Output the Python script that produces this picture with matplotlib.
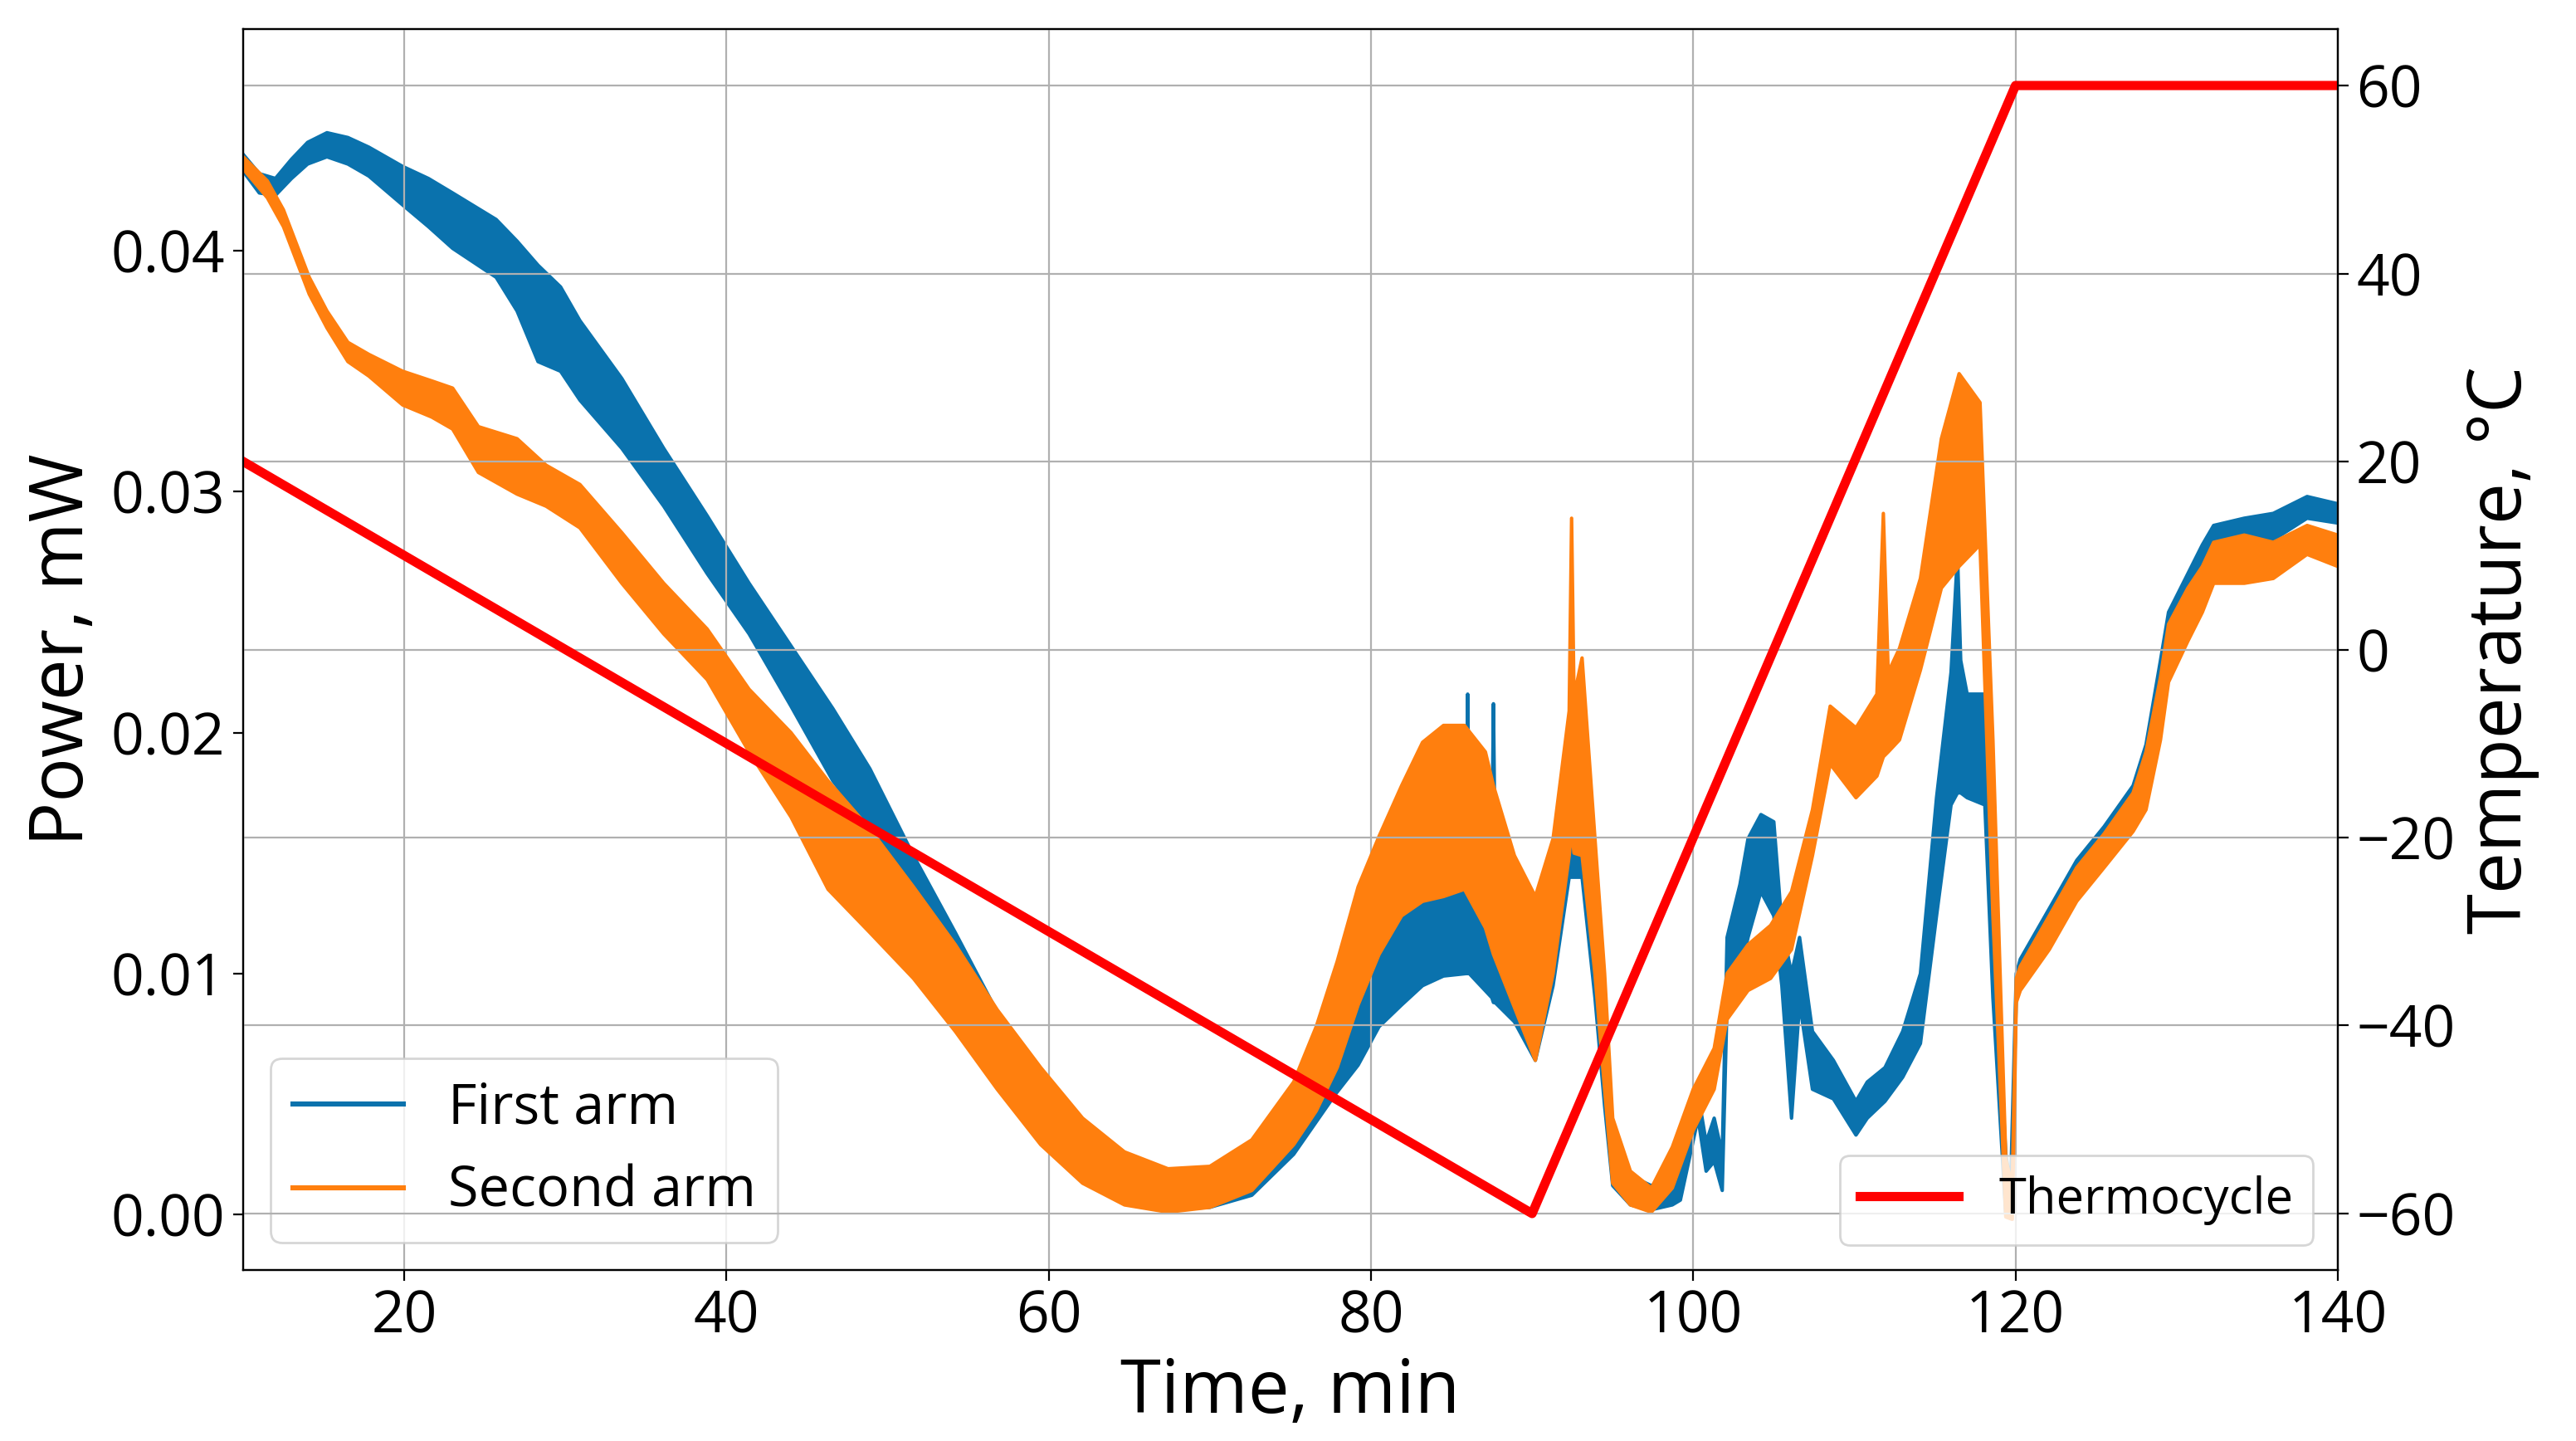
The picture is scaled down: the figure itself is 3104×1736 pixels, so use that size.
import matplotlib.pyplot as plt
from matplotlib.lines import Line2D

plt.rcParams['font.family'] = ['Open Sans', 'DejaVu Sans']

# First arm: time (min), upper / lower edge of the noisy band (mW)
first_t = [10.0, 11.0, 12.0, 13.0, 14.0, 15.2, 16.5, 17.8, 19.9, 21.5, 23.0, 25.7, 27.0, 28.3,
           29.7, 30.9, 33.5, 36.1, 38.8, 41.4, 44.0, 46.6, 48.9, 51.6, 54.2, 56.8, 59.5, 62.1,
           64.7, 67.4, 70.0, 72.6, 75.2, 77.8, 79.2, 80.5, 81.9, 83.2, 84.5, 85.9, 86.0, 86.1,
           87.5, 87.6, 87.7, 88.9, 90.2, 91.3, 92.3, 93.1, 93.9, 94.5, 95.0, 96.1, 97.4, 98.7,
           99.2, 100.3, 100.8, 101.3, 101.8, 102.1, 102.9, 103.4, 104.2, 105.0, 105.5, 106.1,
           106.6, 107.4, 108.7, 110.1, 110.8, 111.9, 113.0, 114.1, 115.1, 116.0, 116.4, 116.6,
           117.0, 118.1, 118.6, 119.4, 119.7, 120.05, 120.3, 122.1, 123.8, 125.5, 127.3, 128.1,
           129.0, 129.5, 130.7, 131.6, 132.3, 134.2, 136.0, 138.1, 140.0]
first_hi = [0.0440, 0.0432, 0.0430, 0.0438, 0.0445, 0.0449, 0.0447, 0.0443, 0.0435, 0.0430,
            0.0424, 0.0413, 0.0404, 0.0394, 0.0385, 0.0371, 0.0347, 0.0318, 0.0290, 0.0262,
            0.0236, 0.0210, 0.0185, 0.0149, 0.0117, 0.0084, 0.0055, 0.0034, 0.0020, 0.0016,
            0.0016, 0.0025, 0.0048, 0.0085, 0.0100, 0.0120, 0.0140, 0.0150, 0.0155, 0.0160,
            0.0216, 0.0158, 0.0152, 0.0212, 0.0150, 0.0135, 0.0125, 0.0150, 0.0190, 0.0215,
            0.0150, 0.0090, 0.0035, 0.0016, 0.0012, 0.0016, 0.0020, 0.0050, 0.0030, 0.0040,
            0.0025, 0.0115, 0.0137, 0.0156, 0.0166, 0.0163, 0.0120, 0.0100, 0.0115, 0.0076,
            0.0064, 0.0047, 0.0055, 0.0061, 0.0076, 0.0100, 0.0173, 0.0225, 0.0274, 0.0230,
            0.0216, 0.0216, 0.0124, 0.0025, 0.0012, 0.0100, 0.0106, 0.0127, 0.0147, 0.0161,
            0.0178, 0.0195, 0.0230, 0.0250, 0.0266, 0.0278, 0.0286, 0.0289, 0.0291, 0.0298,
            0.0295]
first_lo = [0.0433, 0.0424, 0.0423, 0.0430, 0.0436, 0.0439, 0.0436, 0.0431, 0.0419, 0.0410,
            0.0401, 0.0389, 0.0375, 0.0354, 0.0350, 0.0338, 0.0318, 0.0294, 0.0266, 0.0241,
            0.0211, 0.0180, 0.0160, 0.0125, 0.0095, 0.0065, 0.0040, 0.0018, 0.0006, 0.0002,
            0.0003, 0.0008, 0.0025, 0.0050, 0.0062, 0.0078, 0.0087, 0.0095, 0.0099, 0.0100,
            0.0100, 0.0100, 0.0090, 0.0088, 0.0088, 0.0080, 0.0064, 0.0095, 0.0140, 0.0140,
            0.0090, 0.0045, 0.0012, 0.0004, 0.0002, 0.0004, 0.0006, 0.0040, 0.0018, 0.0022,
            0.0010, 0.0088, 0.0100, 0.0115, 0.0134, 0.0124, 0.0095, 0.0040, 0.0088, 0.0052,
            0.0048, 0.0033, 0.0040, 0.0047, 0.0057, 0.0071, 0.0124, 0.0170, 0.0175, 0.0175,
            0.0173, 0.0170, 0.0090, 0.0000, -0.0001, 0.0090, 0.0096, 0.0112, 0.0132, 0.0146,
            0.0161, 0.0170, 0.0200, 0.0225, 0.0248, 0.0262, 0.0275, 0.0279, 0.0280, 0.0289,
            0.0287]

# Second arm
second_t = [10.0, 11.5, 12.5, 13.3, 14.1, 15.2, 16.5, 17.8, 19.9, 21.7, 23.0, 24.6, 27.0, 28.8,
            30.9, 33.5, 36.1, 38.8, 41.4, 44.0, 46.3, 48.9, 51.6, 54.2, 56.8, 59.5, 62.1, 64.7,
            67.4, 70.0, 72.6, 75.2, 76.6, 77.9, 79.2, 80.5, 81.9, 83.2, 84.5, 85.8, 87.1, 87.6,
            88.9, 90.2, 91.3, 92.3, 92.45, 92.6, 93.1, 93.9, 94.5, 95.0, 96.1, 97.4, 98.7,
            100.0, 101.3, 102.1, 103.4, 104.8, 106.1, 107.4, 108.5, 110.1, 111.4, 111.8, 112.1,
            112.8, 114.1, 115.4, 116.5, 117.8, 118.6, 119.4, 119.8, 120.05, 120.3, 122.1, 123.8,
            125.5, 127.3, 128.1, 129.0, 129.5, 130.7, 131.6, 132.3, 134.2, 136.0, 138.1, 140.0]
second_hi = [0.0439, 0.0429, 0.0417, 0.0403, 0.0389, 0.0375, 0.0362, 0.0357, 0.0350, 0.0346,
             0.0343, 0.0327, 0.0322, 0.0311, 0.0303, 0.0283, 0.0262, 0.0243, 0.0218, 0.0200,
             0.0180, 0.0160, 0.0136, 0.0112, 0.0085, 0.0061, 0.0040, 0.0026, 0.0019, 0.0020,
             0.0031, 0.0055, 0.0078, 0.0105, 0.0136, 0.0157, 0.0178, 0.0196, 0.0203, 0.0203,
             0.0192, 0.0178, 0.0149, 0.0132, 0.0156, 0.0209, 0.0289, 0.0215, 0.0231, 0.0156,
             0.0100, 0.0040, 0.0018, 0.0011, 0.0028, 0.0052, 0.0069, 0.0100, 0.0112, 0.0120,
             0.0134, 0.0168, 0.0211, 0.0202, 0.0216, 0.0291, 0.0225, 0.0235, 0.0264, 0.0322,
             0.0349, 0.0337, 0.0197, 0.0023, 0.0012, 0.0098, 0.0103, 0.0124, 0.0144, 0.0158,
             0.0175, 0.0192, 0.0223, 0.0245, 0.0260, 0.0269, 0.0279, 0.0282, 0.0279, 0.0286,
             0.0282]
second_lo = [0.0434, 0.0422, 0.0410, 0.0396, 0.0382, 0.0368, 0.0354, 0.0348, 0.0336, 0.0331,
             0.0326, 0.0308, 0.0299, 0.0294, 0.0285, 0.0262, 0.0241, 0.0222, 0.0192, 0.0165,
             0.0135, 0.0117, 0.0098, 0.0076, 0.0052, 0.0029, 0.0013, 0.0004, 0.0001, 0.0003,
             0.0010, 0.0029, 0.0043, 0.0061, 0.0087, 0.0108, 0.0124, 0.0130, 0.0132, 0.0135,
             0.0119, 0.0108, 0.0086, 0.0064, 0.0100, 0.0149, 0.0160, 0.0150, 0.0149, 0.0100,
             0.0052, 0.0013, 0.0004, 0.0001, 0.0011, 0.0035, 0.0052, 0.0081, 0.0093, 0.0098,
             0.0110, 0.0149, 0.0187, 0.0173, 0.0182, 0.0190, 0.0192, 0.0197, 0.0226, 0.0260,
             0.0269, 0.0278, 0.0124, -0.0001, -0.0002, 0.0088, 0.0093, 0.0110, 0.0130, 0.0144,
             0.0159, 0.0168, 0.0197, 0.0221, 0.0238, 0.0250, 0.0262, 0.0262, 0.0264, 0.0274,
             0.0269]

# Thermocycle set points
thermo_t = [10, 90, 120, 140]
thermo_c = [20, -60, 60, 60]

blue = '#0a72ad'
orange = '#ff7f0e'

fig = plt.figure(figsize=(15.52, 8.68), dpi=200)
ax1 = fig.add_axes([0.0944, 0.1187, 0.8131, 0.8611])
ax2 = ax1.twinx()

for t, hi, lo, c, z in [(first_t, first_hi, first_lo, blue, 2),
                        (second_t, second_hi, second_lo, orange, 3)]:
    ax1.fill_between(t, lo, hi, color=c, lw=0, zorder=z)
    ax1.plot(t, hi, color=c, lw=1.5, zorder=z)
    ax1.plot(t, lo, color=c, lw=1.5, zorder=z)

ax2.plot(thermo_t, thermo_c, color='red', lw=4, label='Thermocycle')

ax1.set_xlim(10, 140)
ax1.set_ylim(-0.0023, 0.0492)
ax2.set_ylim(-66, 66)
ax1.set_xticks([20, 40, 60, 80, 100, 120, 140])
ax1.set_yticks([0.00, 0.01, 0.02, 0.03, 0.04])
ax2.set_yticks([-60, -40, -20, 0, 20, 40, 60])
# horizontal grid follows the temperature axis, vertical grid the time axis
ax2.grid(True)
ax1.set_axisbelow(False)
ax1.grid(True, axis='x')

for ax in (ax1, ax2):
    ax.tick_params(labelsize=25, length=4.5)

ax1.set_xlabel('Time, min', fontsize=32)
ax1.set_ylabel('Power, mW', fontsize=32)
ax2.set_ylabel('Temperature, °C', fontsize=32)

handles = [Line2D([], [], color=blue, lw=2.2), Line2D([], [], color=orange, lw=2.2)]
ax1.legend(handles, ['First arm', 'Second arm'], loc='lower left', fontsize=24)
ax2.legend(loc='lower right', fontsize=21.5)

fig.savefig('out.png', dpi=200)
